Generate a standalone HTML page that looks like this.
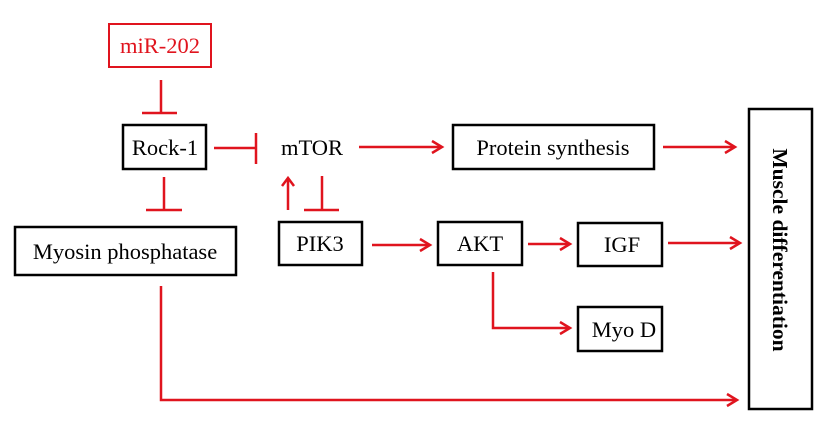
<!DOCTYPE html>
<html><head><meta charset="utf-8"><style>
html,body{margin:0;padding:0;background:#fff;}
svg text{font-family:"Liberation Serif",serif;}
</style></head><body>
<svg width="825" height="437" viewBox="0 0 825 437" xmlns="http://www.w3.org/2000/svg">
<g fill="none" stroke="#000" stroke-width="2.5">
<rect x="123" y="125" width="83" height="44"/>
<rect x="453" y="125" width="201" height="44"/>
<rect x="15" y="227" width="221" height="48"/>
<rect x="279" y="222" width="83" height="43"/>
<rect x="438" y="222" width="84" height="43"/>
<rect x="578" y="223" width="84" height="43"/>
<rect x="578" y="307" width="84" height="44"/>
<rect x="749" y="109" width="63" height="300"/>
</g>
<rect x="109" y="24" width="102" height="43" fill="none" stroke="#e0141e" stroke-width="2"/>
<g stroke="#e0141e" stroke-width="2.5" fill="none">
<line x1="161" y1="80" x2="161" y2="113"/><line x1="142" y1="113" x2="177" y2="113"/>
<line x1="214" y1="148" x2="256" y2="148"/><line x1="256" y1="133" x2="256" y2="164"/>
<line x1="164" y1="177" x2="164" y2="210"/><line x1="146" y1="210" x2="182" y2="210"/>
<line x1="322" y1="176" x2="322" y2="210"/><line x1="304" y1="210" x2="339" y2="210"/>
<line x1="288" y1="210" x2="288" y2="178"/><polyline points="282,186 288,178 294,186"/>
<line x1="359" y1="147" x2="442" y2="147"/><polyline points="432,141 442,147 432,153"/>
<line x1="663" y1="147" x2="735" y2="147"/><polyline points="725,141 735,147 725,153"/>
<line x1="372" y1="245" x2="430" y2="245"/><polyline points="420,239 430,245 420,251"/>
<line x1="528" y1="244" x2="570" y2="244"/><polyline points="560,238 570,244 560,250"/>
<line x1="668" y1="243" x2="740" y2="243"/><polyline points="730,237 740,243 730,249"/>
<polyline points="493,272 493,328 570,328"/><polyline points="560,322 570,328 560,334"/>
<polyline points="161,286 161,400 737,400"/><polyline points="727,394 737,400 727,406"/>
</g>
<g font-size="22.5" fill="#000" text-anchor="middle">
<text x="160" y="53" fill="#e0141e">miR-202</text>
<text x="165" y="155">Rock-1</text>
<text x="312" y="155">mTOR</text>
<text x="553" y="155">Protein synthesis</text>
<text x="125" y="259">Myosin phosphatase</text>
<text x="320" y="251">PIK3</text>
<text x="480" y="251">AKT</text>
<text x="622" y="252">IGF</text>
<text x="624" y="337">Myo D</text>
<text x="0" y="0" font-weight="bold" font-size="21.5" transform="translate(773,250) rotate(90)">Muscle differentiation</text>
</g>
</svg>
</body></html>
